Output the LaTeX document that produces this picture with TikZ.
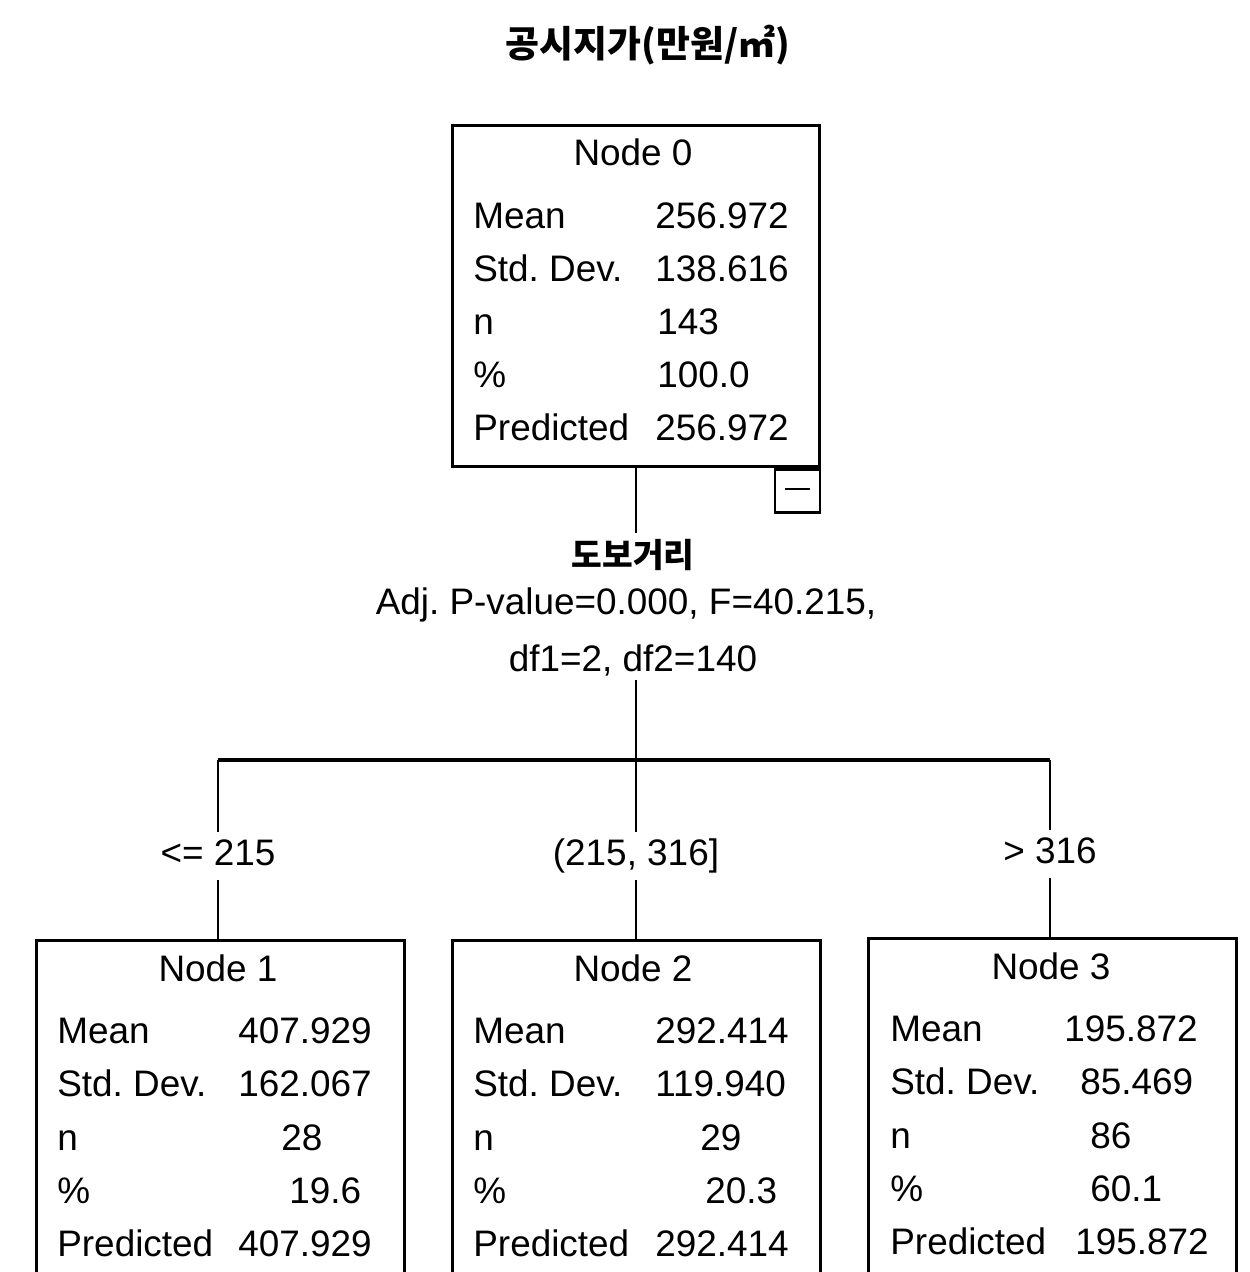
\documentclass[tikz,border=0pt]{standalone}
\usepackage{fontspec}
\setmainfont{Liberation Sans}
\newfontfamily\kofont{Noto Sans CJK KR}
\usetikzlibrary{positioning}
\tikzset{
  box/.style  = {draw, line width=1.7pt, minimum width=7.36cm, inner sep=0pt},
  row/.style  = {anchor=base west, inner sep=0pt, font=\fontsize{21}{25}\selectfont},
  head/.style = {anchor=base, inner sep=0pt, font=\fontsize{21}{25}\selectfont},
  txt/.style  = {inner sep=2pt, font=\fontsize{21}{25}\selectfont},
  cond/.style = {minimum height=0.95cm, inner sep=0pt, text height=15pt, text depth=4pt,
                 font=\fontsize{21}{25}\selectfont},
  link/.style = {line width=1.2pt},
  bar/.style  = {line width=1.8pt},
}

\begin{document}
\frenchspacing
\begin{tikzpicture}[x=0.02cm, y=-0.02cm]
  \useasboundingbox (0,0) rectangle (1250,1272);
  \clip (0,0) rectangle (1250,1272);

  % title
  \node[font=\kofont\bfseries\fontsize{21}{25}\selectfont] (title) at (648,45) {공시지가(만원/㎡)};

  % root node
  \node[box, minimum height=6.84cm] (node0) at (636,296) {};
  \node[head] (node0head) at (633,165) {Node 0};
  \foreach \lab/\val/\vx/\yy [count=\i] in {Mean/256.972/655/228, Std. Dev./138.616/655/281,
      n/143/657/334, \%/100.0/657/387, Predicted/256.972/655/440} {
    \node[row] (n0lab\i) at (473,\yy) {\lab};
    \node[row] (n0val\i) at (\vx,\yy) {\val};
  }
  \node[draw, line width=1.2pt, minimum width=0.9cm, minimum height=0.86cm,
        inner sep=0pt, anchor=north east] (fold) at (node0.south east) {\rule[0.5ex]{0.5cm}{1.2pt}};

  % split
  \node[font=\kofont\bfseries\fontsize{19}{23}\selectfont] (var) at (633,555) {도보거리};
  \node[txt] (stat1) at (626,605) {Adj. P-value=0.000, F=40.215,};
  \node[txt] (stat2) at (633,660) {df1=2, df2=140};

  \coordinate (fork)  at (636,760);
  \coordinate (forkL) at (218,760);
  \coordinate (forkR) at (1050,760);

  \node[cond] (cond1) at (218,856) {<= 215};
  \node[cond] (cond2) at (636,856) {(215, 316]};
  \node[cond] (cond3) at (1050,854) {> 316};

  % child nodes
  \node[box, minimum height=8cm] (node1) at (220.5,1140) {};
  \node[box, minimum height=8cm] (node2) at (636.5,1140) {};
  \node[box, minimum height=8cm] (node3) at (1052.5,1138) {};

  \node[head] (node1head) at (218,981) {Node 1};
  \foreach \lab/\val/\vx/\yy [count=\i] in {Mean/407.929/238/1043, Std. Dev./162.067/238/1096,
      n/28/281/1150, \%/19.6/289/1203, Predicted/407.929/238/1256} {
    \node[row] (n1lab\i) at (57,\yy) {\lab};
    \node[row] (n1val\i) at (\vx,\yy) {\val};
  }
  \node[head] (node2head) at (633,981) {Node 2};
  \foreach \lab/\val/\vx/\yy [count=\i] in {Mean/292.414/655/1043, Std. Dev./119.940/655/1096,
      n/29/700/1150, \%/20.3/705/1203, Predicted/292.414/655/1256} {
    \node[row] (n2lab\i) at (473,\yy) {\lab};
    \node[row] (n2val\i) at (\vx,\yy) {\val};
  }
  \node[head] (node3head) at (1051,979) {Node 3};
  \foreach \lab/\val/\vx/\yy [count=\i] in {Mean/195.872/1064/1041, Std. Dev./85.469/1080/1094,
      n/86/1090/1148, \%/60.1/1090/1201, Predicted/195.872/1075/1254} {
    \node[row] (n3lab\i) at (890,\yy) {\lab};
    \node[row] (n3val\i) at (\vx,\yy) {\val};
  }

  % connectors
  \draw[link] (node0.south) -- (node0.south |- var.north);
  \draw[link] (stat2.south -| fork) -- (fork);
  \draw[bar] (forkL) -- (forkR);
  \draw[link] (forkL) -- (cond1.north);
  \draw[link] (fork) -- (cond2.north);
  \draw[link] (forkR) -- (cond3.north);
  \draw[link] (cond1.south) -- (cond1.south |- node1.north);
  \draw[link] (cond2.south) -- (cond2.south |- node2.north);
  \draw[link] (cond3.south) -- (cond3.south |- node3.north);
\end{tikzpicture}
\end{document}
